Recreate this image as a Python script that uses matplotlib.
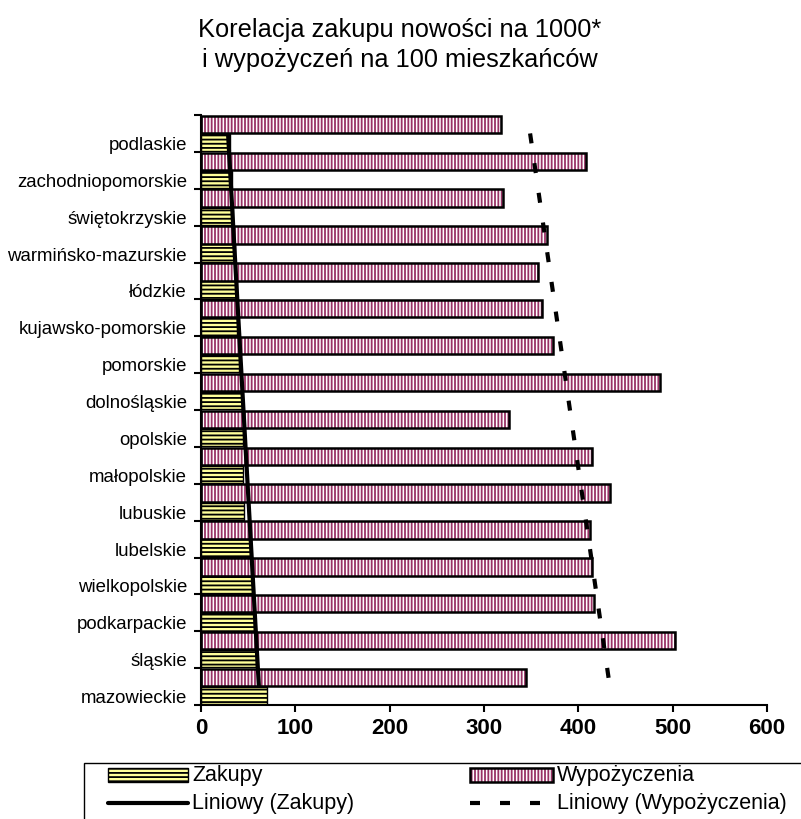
import numpy as np
import matplotlib
matplotlib.use('Agg')
import matplotlib.pyplot as plt
from matplotlib.patches import Rectangle
from matplotlib.lines import Line2D

plt.rcParams['font.family'] = ['Liberation Sans', 'DejaVu Sans']
plt.rcParams['hatch.linewidth'] = 1.3

# ---- data (top to bottom as in the chart) ----
regions = ['podlaskie', 'zachodniopomorskie', 'świętokrzyskie', 'warmińsko-mazurskie',
           'łódzkie', 'kujawsko-pomorskie', 'pomorskie', 'dolnośląskie', 'opolskie',
           'małopolskie', 'lubuskie', 'lubelskie', 'wielkopolskie', 'podkarpackie',
           'śląskie', 'mazowieckie']
zakupy = [31, 32.5, 34, 36, 38, 38.6, 40.3, 43, 44.5, 45, 45.6, 52.7, 55, 56, 58, 70]
wypozyczenia = [318, 408, 320, 367, 357, 362, 373, 487, 327, 414, 434, 412, 415, 417, 503, 344]
x_ticks = [0, 100, 200, 300, 400, 500, 600]
title_lines = ['Korelacja zakupu nowości na 1000*', 'i wypożyczeń na 100 mieszkańców']
legend_labels = ['Zakupy', 'Wypożyczenia', 'Liniowy (Zakupy)', 'Liniowy (Wypożyczenia)']

W, H = 801, 820
fig = plt.figure(figsize=(W / 100, H / 100), dpi=100)


def fx(px):
    return px / W


def fy(py):
    return 1 - py / H


ax = fig.add_axes([fx(201), fy(706), (767 - 201) / W, (706 - 116) / H])

n = len(regions)
pos = np.arange(n)[::-1].astype(float)
h = 0.47
off = 0.245
wyp_col = '#993366'
zak_col = '#FFFF99'

ax.barh(pos + off, wypozyczenia, height=h, color='white', edgecolor=wyp_col,
        hatch='|||||', linewidth=0, zorder=2)
ax.barh(pos + off, wypozyczenia, height=h, fill=False, edgecolor='black',
        linewidth=1.8, zorder=3)
ax.barh(pos - off, zakupy, height=h, color=zak_col, edgecolor='black',
        hatch='----', linewidth=1.0, zorder=2)

cz = np.polyfit(pos, zakupy, 1)
cw = np.polyfit(pos, wypozyczenia, 1)
ax.plot(np.polyval(cz, pos), pos, color='black', lw=3, zorder=5, solid_capstyle='butt')
ax.plot(np.polyval(cw, pos), pos, color='black', lw=3, dashes=(2.4, 4.8),
        dash_capstyle='butt', zorder=5)

ax.set_xlim(0, 600)
ax.set_ylim(-0.5, n - 0.5)
ax.set_xticks(x_ticks)
ax.set_xticklabels([str(t) for t in x_ticks], fontweight='bold', fontsize=16)
ax.set_yticks(pos - off)
ax.set_yticklabels(regions, fontsize=13.4)
ax.set_yticks(np.arange(-0.5, n), minor=True)
ax.tick_params(axis='y', which='major', length=0, pad=10)
ax.tick_params(axis='y', which='minor', length=5, width=1.5, direction='out', color='black')
ax.tick_params(axis='x', which='major', length=5, width=1.5, direction='out', pad=4)
for s in ['top', 'right']:
    ax.spines[s].set_visible(False)
for s in ['left', 'bottom']:
    ax.spines[s].set_linewidth(1.5)
    ax.spines[s].set_color('black')

# ---- title ----
fig.text(fx(400), fy(37), title_lines[0], ha='center', va='baseline', fontsize=18.3)
fig.text(fx(400), fy(67), title_lines[1], ha='center', va='baseline', fontsize=18.3)

# ---- legend ----
fig.patches.append(Rectangle((fx(84), fy(830)), fx(805) - fx(84), fy(764) - fy(830),
                             transform=fig.transFigure, fill=False, edgecolor='black', lw=1))
# Zakupy patch
fig.patches.append(Rectangle((fx(108), fy(783)), fx(188) - fx(108), fy(769) - fy(783),
                             transform=fig.transFigure, facecolor=zak_col, edgecolor='black',
                             hatch='----', lw=1.0))
# Wyp patch
fig.patches.append(Rectangle((fx(470), fy(783)), fx(553) - fx(470), fy(769) - fy(783),
                             transform=fig.transFigure, facecolor='white', edgecolor=wyp_col,
                             hatch='|||||', lw=0))
fig.patches.append(Rectangle((fx(470), fy(783)), fx(553) - fx(470), fy(769) - fy(783),
                             transform=fig.transFigure, fill=False, edgecolor='black', lw=1.8))
fig.lines.append(Line2D([fx(108), fx(188)], [fy(804), fy(804)], transform=fig.transFigure,
                        color='black', lw=3, solid_capstyle='round'))
fig.lines.append(Line2D([fx(470), fx(553)], [fy(804), fy(804)], transform=fig.transFigure,
                        color='black', lw=3, dashes=(2.4, 4.8), dash_capstyle='butt'))
fig.text(fx(192), fy(776), legend_labels[0], ha='left', va='center', fontsize=15.5)
fig.text(fx(557), fy(776), legend_labels[1], ha='left', va='center', fontsize=15.5)
fig.text(fx(192), fy(804), legend_labels[2], ha='left', va='center', fontsize=15.5)
fig.text(fx(557), fy(804), legend_labels[3], ha='left', va='center', fontsize=15.5)

fig.savefig('out.png', dpi=100)
